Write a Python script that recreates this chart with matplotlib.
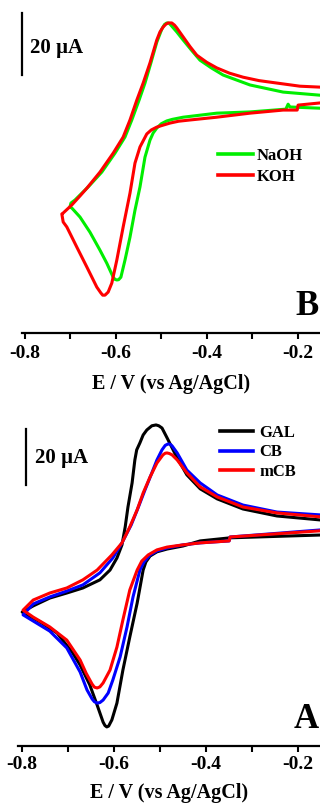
import matplotlib
matplotlib.use("Agg")
import matplotlib.pyplot as plt
from matplotlib.ticker import MultipleLocator, FormatStrFormatter

plt.rcParams['font.family'] = ['Liberation Serif', 'DejaVu Serif']
plt.rcParams['font.weight'] = 'bold'
plt.rcParams['axes.unicode_minus'] = False

# ---------------- Panel B (top): electrolyte ----------------
E_naoh = [-0.151, -0.217, -0.221, -0.226, -0.305, -0.378, -0.452, -0.476, -0.488, -0.500, -0.510, -0.518, -0.525,
          -0.536, -0.547, -0.558, -0.569, -0.580, -0.589, -0.594, -0.598, -0.602, -0.606, -0.620, -0.635,
          -0.657, -0.679, -0.697, -0.701,
          -0.699, -0.690, -0.679, -0.661, -0.631, -0.602, -0.580, -0.565, -0.549, -0.536,
          -0.523, -0.510, -0.499, -0.493, -0.488, -0.483, -0.479, -0.466, -0.452, -0.433, -0.415, -0.390, -0.364, -0.305,
          -0.232, -0.151]
I_naoh = [13.5, 13.9, 14.8, 13.2, 12.3, 11.9, 10.6, 9.9, 9.4, 8.5, 7.1, 5.5, 3.2,
          -2.3, -11.9, -19.4, -28.1, -35.5, -41.0, -41.8, -41.9, -41.7, -41.0, -36.5, -32.3,
          -26.5, -21.6, -18.7, -18.4,
          -17.1, -16.1, -14.5, -11.9, -7.1, -1.0, 4.2, 9.7, 16.1, 21.6,
          28.1, 34.8, 39.0, 40.5, 41.0, 40.9, 40.3, 38.1, 35.5, 32.1, 29.0, 26.5, 24.2, 21.0,
          18.7, 17.7]

E_koh = [-0.151, -0.199, -0.201, -0.232, -0.305, -0.378, -0.437, -0.462, -0.481, -0.497, -0.510, -0.522, -0.532,
         -0.547, -0.558, -0.569, -0.584, -0.598, -0.609, -0.617, -0.624, -0.629, -0.633, -0.642,
         -0.664, -0.686, -0.708, -0.716, -0.719,
         -0.716, -0.697, -0.679, -0.664, -0.635, -0.606, -0.584, -0.569, -0.554, -0.540,
         -0.525, -0.510, -0.503, -0.496, -0.490, -0.485, -0.477, -0.471, -0.466, -0.452, -0.437, -0.422, -0.400, -0.378,
         -0.350, -0.320, -0.285, -0.245, -0.195, -0.151]
I_koh = [15.2, 14.5, 12.9, 12.9, 11.9, 10.6, 9.7, 9.3, 8.7, 8.0, 7.4, 6.5, 5.2,
         1.0, -4.2, -13.9, -24.8, -35.5, -42.9, -45.8, -46.8, -46.8, -46.1, -44.2,
         -37.7, -31.3, -24.8, -23.2, -20.6,
         -20.3, -17.7, -14.8, -12.3, -7.1, -1.0, 4.2, 9.7, 16.1, 21.6,
         28.1, 35.5, 38.1, 39.7, 40.6, 41.0, 41.0, 40.3, 39.4, 36.5, 33.4, 30.6, 28.3, 26.5,
         24.8, 23.5, 22.4, 21.6, 20.6, 20.3]

# ---------------- Panel A (bottom): carbon material ----------------
E_gal = [-0.152, -0.347, -0.412, -0.449, -0.484, -0.506, -0.521, -0.530, -0.536, -0.549,
         -0.565, -0.580, -0.593, -0.604, -0.611, -0.615, -0.619, -0.623, -0.636, -0.652, -0.673, -0.689,
         -0.723, -0.760, -0.799,
         -0.775, -0.739, -0.702, -0.667, -0.630, -0.608, -0.593, -0.582, -0.575, -0.569,
         -0.560, -0.554, -0.550, -0.543, -0.536, -0.528, -0.517, -0.508, -0.502, -0.495, -0.484, -0.462, -0.441,
         -0.412, -0.375, -0.319, -0.245, -0.152]
I_gal = [8.9, 7.9, 6.8, 5.0, 3.9, 2.9, 1.4, -0.7, -3.6, -15.4,
         -27.5, -39.3, -51.1, -57.1, -59.3, -59.6, -59.1, -57.9, -51.8, -44.6, -37.5, -33.2,
         -26.1, -22.1, -18.6,
         -16.4, -13.6, -11.8, -10.0, -7.1, -3.6, 0.7, 5.4, 11.8, 18.9,
         27.5, 35.7, 39.3, 41.8, 44.6, 46.4, 47.9, 48.2, 47.9, 47.1, 43.6, 36.4, 30.4,
         25.4, 21.8, 18.2, 15.7, 14.3]

E_cb = [-0.152, -0.347, -0.349, -0.412, -0.449, -0.484, -0.506, -0.521, -0.534, -0.543,
        -0.558, -0.571, -0.586, -0.602, -0.612, -0.623, -0.630, -0.636, -0.642, -0.647, -0.658, -0.673,
        -0.702, -0.739, -0.775, -0.797,
        -0.775, -0.739, -0.702, -0.667, -0.630, -0.602, -0.582, -0.562, -0.547, -0.532,
        -0.517, -0.506, -0.495, -0.488, -0.482, -0.477, -0.473, -0.462, -0.441, -0.412, -0.375, -0.319,
        -0.245, -0.152]
I_cb = [10.7, 8.2, 6.8, 6.1, 5.4, 4.3, 3.2, 1.8, -0.7, -3.6,
        -13.2, -23.9, -34.6, -42.9, -47.5, -50.0, -50.9, -51.1, -50.6, -49.6, -46.4, -40.0,
        -31.4, -25.4, -21.8, -19.6,
        -15.7, -13.2, -11.1, -8.9, -4.6, 0.7, 6.1, 12.5, 18.6, 25.0,
        31.1, 35.7, 39.3, 40.9, 41.4, 41.3, 40.7, 38.2, 32.1, 27.5, 23.2, 19.6,
        17.1, 16.1]

E_mcb = [-0.152, -0.347, -0.349, -0.412, -0.449, -0.484, -0.506, -0.525, -0.539, -0.549,
         -0.565, -0.580, -0.593, -0.608, -0.623, -0.630, -0.636, -0.642, -0.647, -0.660, -0.673, -0.702,
         -0.739, -0.775, -0.797,
         -0.775, -0.739, -0.702, -0.667, -0.636, -0.604, -0.582, -0.565, -0.549, -0.536,
         -0.521, -0.506, -0.493, -0.488, -0.484, -0.479, -0.473, -0.462, -0.441, -0.412, -0.375, -0.319,
         -0.245, -0.152]
I_mcb = [10.4, 8.2, 6.8, 6.1, 5.4, 4.6, 3.6, 1.8, -0.4, -3.6,
         -10.7, -21.4, -31.1, -39.3, -43.9, -45.3, -45.7, -45.4, -44.3, -40.4, -35.7, -28.6,
         -23.9, -20.4, -17.9,
         -14.3, -11.8, -10.0, -7.1, -3.6, 1.8, 6.1, 11.8, 17.9, 23.9,
         29.6, 34.6, 37.5, 38.1, 38.2, 38.0, 37.5, 35.7, 31.1, 26.1, 22.5, 18.9,
         16.8, 15.4]

labels_B = ["NaOH", "KOH"]
labels_A = ["GAL", "CB", "mCB"]
SCALE_UA = 20
xlabel = "E / V (vs Ag/AgCl)"

W, H = 320, 806
fig = plt.figure(figsize=(W / 100, H / 100), dpi=100)

def px_axes(left, right, top, bottom):
    return fig.add_axes([left / W, 1 - bottom / H, (right - left) / W, (bottom - top) / H])

axB = px_axes(21.7, 320, 0, 333)
axA = px_axes(18.3, 320, 400, 745.7)

LW = 2.2
axB.plot(E_naoh, I_naoh, color='#00ee00', lw=LW, label=labels_B[0], solid_joinstyle='round')
axB.plot(E_koh, I_koh, color='#ff0000', lw=LW, label=labels_B[1], solid_joinstyle='round')
axB.set_xlim(-0.8073, -0.1508)
axB.set_ylim(-59.0, 48.4)

axA.plot(E_gal, I_gal, color='black', lw=LW, label=labels_A[0], solid_joinstyle='round')
axA.plot(E_cb, I_cb, color='#0000ff', lw=LW, label=labels_A[1], solid_joinstyle='round')
axA.plot(E_mcb, I_mcb, color='#ff0000', lw=LW, label=labels_A[2], solid_joinstyle='round')
axA.set_xlim(-0.8074, -0.1515)
axA.set_ylim(-66.3, 57.1)

for ax, lp, tp in ((axB, 9, 4.5), (axA, 7, 3.5)):
    for s in ('left', 'right', 'top'):
        ax.spines[s].set_visible(False)
    ax.spines['bottom'].set_linewidth(1.6)
    ax.set_yticks([])
    ax.xaxis.set_major_locator(MultipleLocator(0.2))
    ax.xaxis.set_minor_locator(MultipleLocator(0.1))
    ax.xaxis.set_major_formatter(FormatStrFormatter('%.1f'))
    ax.tick_params(axis='x', which='both', direction='out', length=4, width=1.5,
                   labelsize=14, pad=tp)
    for t in ax.get_xticklabels():
        t.set_fontweight('bold')
    ax.set_xlabel(xlabel, fontsize=14.5, fontweight='bold', labelpad=lp)
    ax.patch.set_alpha(0)

# scale bars
axB.plot([-0.8066, -0.8066], [44.2, 44.2 - SCALE_UA], color='black', lw=1.6, clip_on=False)
axB.text(-0.7895, 33.0, "20 \u00b5A", fontsize=15, fontweight='bold', va='center', ha='left')
axA.plot([-0.7907, -0.7907], [46.7, 46.7 - SCALE_UA], color='black', lw=1.6, clip_on=False)
axA.text(-0.771, 36.4, "20 \u00b5A", fontsize=15, fontweight='bold', va='center', ha='left')

# panel letters
axB.text(0.995, 0.055, "B", transform=axB.transAxes, fontsize=25, fontweight='bold',
         ha='right', va='baseline')
axA.text(0.995, 0.05, "A", transform=axA.transAxes, fontsize=25, fontweight='bold',
         ha='right', va='baseline')

legB = axB.legend(loc='upper left', bbox_to_anchor=((218 - 21.7) / 298.3, 1 - 148 / 333),
                  frameon=False, fontsize=12, handlelength=2.1, handletextpad=0.2,
                  labelspacing=0.3, borderpad=0, borderaxespad=0)
legA = axA.legend(loc='upper left', bbox_to_anchor=((220 - 18.3) / 301.7, 1 - (425 - 400) / 345.7),
                  frameon=False, fontsize=12, handlelength=2.0, handletextpad=0.35,
                  labelspacing=0.2, borderpad=0, borderaxespad=0)
for leg in (legA, legB):
    for t in leg.get_texts():
        t.set_fontweight('bold')
    for l in leg.get_lines():
        l.set_linewidth(2.6)

fig.savefig("out.png", dpi=100)
